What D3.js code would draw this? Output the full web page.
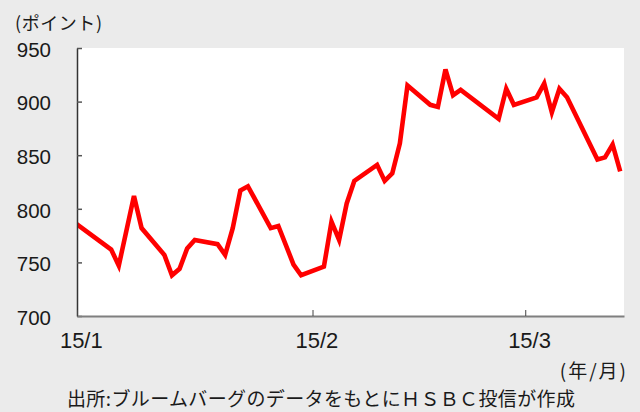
<!DOCTYPE html>
<html>
<head>
<meta charset="utf-8">
<script src="https://cdn.jsdelivr.net/npm/d3@7"></script>
<style>
  body { margin: 0; background: #ebebeb; }
  svg { display: block; }
  text { font-family: "Liberation Sans", Arial, sans-serif; fill: #1a1a1a; }
  .jp { font-family: "Noto Sans CJK JP", sans-serif; }
</style>
</head>
<body>
<svg id="canvas" width="640" height="412"></svg>
<script>
// daily closes
let dates = ['2014-12-31', '2015-01-05', '2015-01-06', '2015-01-08', '2015-01-09',
    '2015-01-12', '2015-01-13', '2015-01-14', '2015-01-15', '2015-01-16',
    '2015-01-19', '2015-01-20', '2015-01-21', '2015-01-22', '2015-01-23',
    '2015-01-26', '2015-01-27', '2015-01-29', '2015-01-30',
    '2015-02-02', '2015-02-03', '2015-02-04', '2015-02-05', '2015-02-06',
    '2015-02-09', '2015-02-10', '2015-02-11', '2015-02-12', '2015-02-13',
    '2015-02-16', '2015-02-17', '2015-02-18', '2015-02-19', '2015-02-20',
    '2015-02-25', '2015-02-26', '2015-02-27',
    '2015-03-02', '2015-03-03', '2015-03-04', '2015-03-05', '2015-03-06',
    '2015-03-10', '2015-03-11', '2015-03-12', '2015-03-13']
let values = [788, 762, 747, 812, 782,
    757, 738, 744, 763, 771,
    767, 757, 782, 817, 821,
    782, 784, 748, 738,
    746, 788, 771, 805, 826,
    841, 826, 833, 861, 915,
    897, 895, 930, 906, 911,
    884, 912, 897,
    904, 917, 890, 912, 904,
    846, 848, 860, 835]

let yTicks = [700, 750, 800, 850, 900, 950]
let xTicks = ['2015-01-01', '2015-02-01', '2015-03-01']
let xTickLabels = ['15/1', '15/2', '15/3']

let parse = d3.timeParse('%Y-%m-%d')
let canvas = d3.select('#canvas')

let plotLeft = 77, plotRight = 624, plotTop = 48, plotBottom = 316

let xScale = d3.scaleTime()
    .domain([parse('2015-01-01'), parse('2015-03-14')])
    .range([plotLeft, plotRight])
let yScale = d3.scaleLinear()
    .domain([700, 950])
    .range([plotBottom, plotTop])

// points sit in the middle of their day
let mid = (d) => d3.timeHour.offset(d, 12)
let halfDay = xScale(mid(parse('2015-01-01'))) - xScale(parse('2015-01-01'))

canvas.append('rect')
    .attr('x', plotLeft)
    .attr('y', plotTop)
    .attr('width', plotRight - plotLeft)
    .attr('height', plotBottom - plotTop)
    .attr('fill', '#ffffff')

canvas.append('clipPath')
    .attr('id', 'plot')
    .append('rect')
    .attr('x', plotLeft)
    .attr('y', plotTop - 10)
    .attr('width', plotRight - plotLeft)
    .attr('height', plotBottom - plotTop + 20)

let points = dates.map((d, i) => [parse(d), values[i]])

let line = d3.line()
    .x((p) => xScale(mid(p[0])))
    .y((p) => yScale(p[1]))

canvas.append('path')
    .datum(points)
    .attr('clip-path', 'url(#plot)')
    .attr('d', line)
    .attr('fill', 'none')
    .attr('stroke', '#ff0000')
    .attr('stroke-width', 4.6)
    .attr('stroke-linejoin', 'miter')

// y axis, ticks pointing inward
let yAxis = canvas.append('g')
    .attr('transform', 'translate(' + plotLeft + ',0)')
    .call(d3.axisLeft(yScale)
        .tickValues(yTicks)
        .tickSizeInner(-5)
        .tickSizeOuter(0)
        .tickPadding(26))
yAxis.select('.domain').attr('stroke', '#333333').attr('stroke-width', 1.5)
yAxis.selectAll('.tick line').attr('stroke', '#555555').attr('stroke-width', 1.5)
yAxis.selectAll('text')
    .attr('font-size', 20.5)
    .attr('font-family', null)
    .attr('fill', '#1a1a1a')
    .attr('dy', '0.4em')

// x axis
let xAxis = canvas.append('g')
    .attr('transform', 'translate(0,' + plotBottom + ')')
    .call(d3.axisBottom(xScale)
        .tickValues(xTicks.map(parse))
        .tickFormat((d, i) => xTickLabels[i])
        .tickSizeInner(-6)
        .tickSizeOuter(0))
xAxis.select('.domain').attr('stroke', '#7f7f7f').attr('stroke-width', 2)
xAxis.selectAll('.tick line').attr('stroke', '#444444')
xAxis.selectAll('text')
    .attr('font-size', 22)
    .attr('font-family', null)
    .attr('fill', '#1a1a1a')
    .attr('x', halfDay)
    .attr('y', 32)
    .attr('dy', null)

canvas.append('text')
    .attr('class', 'jp')
    .attr('x', 15)
    .attr('y', 30)
    .attr('font-size', 18)
    .attr('textLength', 87)
    .attr('lengthAdjust', 'spacing')
    .text('(ポイント)')

canvas.append('text')
    .attr('class', 'jp')
    .attr('x', 628)
    .attr('y', 378)
    .attr('text-anchor', 'end')
    .attr('font-size', 19)
    .attr('letter-spacing', 2)
    .text('(年/月)')

canvas.append('text')
    .attr('class', 'jp')
    .attr('x', 67)
    .attr('y', 406)
    .attr('font-size', 19)
    .attr('textLength', 508)
    .attr('lengthAdjust', 'spacing')
    .text('出所:ブルームバーグのデータをもとにＨＳＢＣ投信が作成')
</script>
</body>
</html>
